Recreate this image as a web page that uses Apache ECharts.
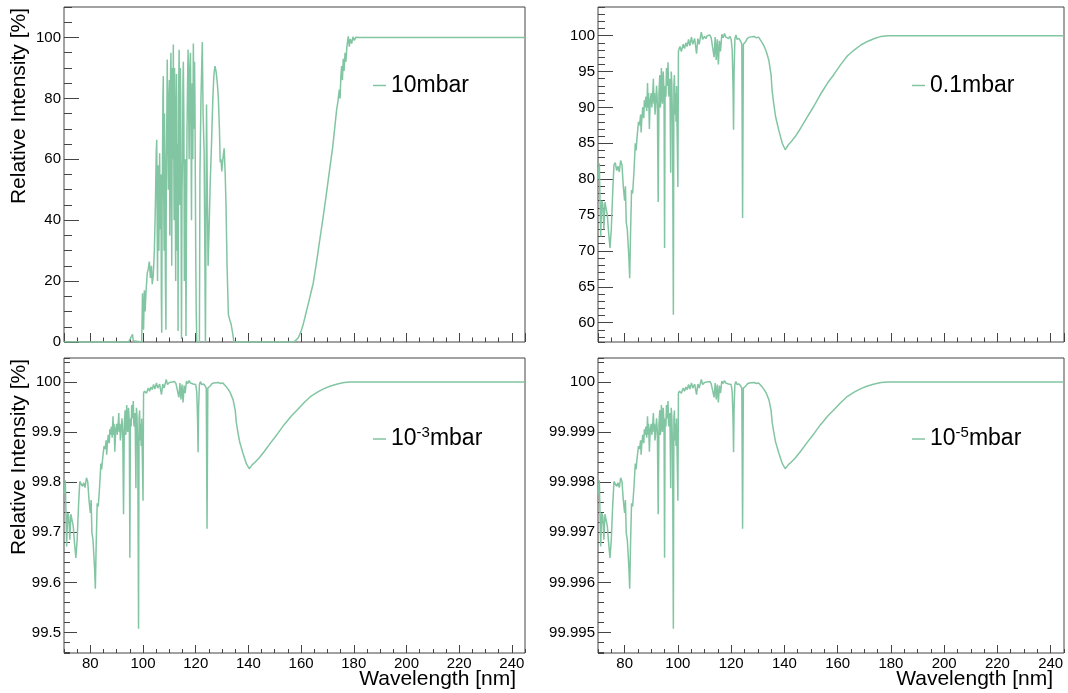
<!DOCTYPE html>
<html><head><meta charset="utf-8">
<script src="https://cdn.jsdelivr.net/npm/echarts@6/dist/echarts.min.js"></script>
<style>html,body{margin:0;padding:0;background:#fff}#c{width:1068px;height:693px}</style>
</head><body><div id="c"></div>
<script>
// ---------- data ----------
const wl10 = [70,94.5,95.0,95.5,96.0,96.3,97.0,99.5,99.8,100.2,100.5,100.8,101.1,101.6,102.0,102.4,102.8,103.2,103.5,103.9,104.3,104.7,105.0,105.2,105.4,105.5,105.7,105.8,106.0,106.1,106.3,106.5,106.8,106.95,107.1,107.25,107.4,107.55,107.7,107.85,108.0,108.15,108.3,108.5,108.7,108.85,109.0,109.2,109.4,109.6,109.8,110.0,110.15,110.3,110.45,110.6,110.75,110.9,111.05,111.2,111.35,111.5,111.65,111.8,111.95,112.1,112.25,112.4,112.55,112.7,112.85,113.0,113.15,113.3,113.5,113.7,113.85,114.0,114.15,114.3,114.45,114.6,114.8,115.0,115.15,115.3,115.5,115.7,115.9,116.1,116.3,116.5,116.7,116.9,117.1,117.3,117.5,117.75,118.0,118.2,118.4,118.55,118.7,118.9,119.1,119.25,119.4,119.55,119.7,119.85,120.0,120.2,120.4,121.4,121.6,122.0,122.5,122.8,123.2,123.7,124.1,124.4,124.7,125.1,125.5,126.0,126.5,126.9,127.3,127.7,128.2,128.6,129.0,129.3,129.6,129.9,130.3,130.8,131.2,131.5,131.9,132.4,133.0,133.4,134.0,134.5,157.0,158.0,159.0,160.0,160.9,162.0,163.0,164.6,166.0,167.0,168.4,169.5,171.0,172.0,173.5,174.0,174.5,174.8,175.1,175.4,175.7,176.0,176.3,176.7,177.0,177.4,177.9,178.3,178.7,179.2,179.7,180.2,180.8,181.5,182.5,245];
const t10 = [0,0,0.8,0.3,2.5,0.4,0.3,0,16,4,17,10,16,22.6,24,26.4,21,25,19,22,30,45,62,66.4,35,20,50,58,30,40,62,37,55,15,3,45,60,80,87.3,50,30,75,55,20,4,60,70,92.8,65,50,80,86,35,60,88,95,55,25,70,90,60,97.7,70,40,90,76,45,20,70,88,55,30,65,3.6,80,96,65,45,90,80,40,1,50,60,85,92,74,20,35,60,2,40,70,85,96,80,60,90,95,70,40,75,85,60,98,85,70,92,80,55,30,10,0,0,55,80,98.5,75,62,0,78,50,25,38,52,65,80,87.6,90.6,89,85,80,70,59,60,56,60,63.6,55,45,25,9,7,6,3,0,0,0.5,1.5,3.5,6.1,10,13.5,19.3,27,33,41.2,48,57.7,64,76.3,79,82.9,80,87,90.6,86,93,89,95,92,97,100.4,97,99.5,98,100.2,99,100.1,99.6,100,100];

const wl = [70.0,70.5,71.0,71.4,71.8,72.2,72.6,73.0,73.5,74.0,74.5,75.0,75.5,76.0,76.5,77.0,77.5,78.0,78.5,79.0,79.5,80.0,80.3,80.6,81.0,81.3,81.6,81.9,82.2,82.6,83.0,83.5,84.0,84.3,84.7,85.2,85.6,86.0,86.2,86.4,86.8,87.2,87.4,87.6,88.0,88.3,88.6,88.8,89.0,89.3,89.6,90.0,90.2,90.5,90.8,91.0,91.2,91.4,91.6,92.0,92.3,92.6,92.9,93.2,93.4,93.6,93.8,94.0,94.2,94.5,94.8,95.0,95.2,95.5,95.7,96.0,96.3,96.5,96.7,97.0,97.3,97.5,97.7,98.0,98.3,98.5,98.7,98.9,99.1,99.3,99.5,99.7,100.0,100.2,100.5,100.8,101.3,102.0,102.5,103.0,103.5,104.0,104.5,105.1,105.6,106.3,107.0,107.5,108.0,108.8,109.3,110.0,110.5,111.0,111.5,112.0,112.5,113.0,113.6,114.0,114.4,114.8,115.2,115.6,116.0,116.5,117.0,117.5,118.0,118.5,119.0,119.5,120.0,120.4,120.7,120.9,121.1,121.4,121.8,122.2,122.6,123.0,123.6,124.0,124.3,124.6,125.0,125.5,126.0,126.8,127.5,128.6,129.5,130.3,130.8,131.7,132.4,133.2,134.2,135.0,135.4,136.0,136.7,137.9,139.2,140.3,140.8,141.5,142.5,144.0,146.1,148.5,151.1,153.5,156.2,158.6,161.2,163.7,166.2,168.7,171.2,173.8,176.3,178.8,181.3,183.0,245.0];

const t01 = [80.0,82.2,72.0,77.0,76.5,73.0,76.8,76.0,75.0,72.5,70.4,73.0,78.0,82.0,82.3,81.2,81.8,81.0,82.6,82.0,79.0,77.0,79.0,74.0,73.0,71.0,69.0,66.2,72.0,78.5,78.0,81.0,85.0,84.0,86.0,88.0,87.5,89.0,86.5,88.0,90.0,88.5,91.0,90.0,91.5,89.5,93.4,90.0,92.0,87.0,91.0,92.0,90.0,91.5,94.0,90.5,92.0,89.0,90.0,93.0,90.5,76.8,92.0,94.5,90.0,91.0,95.5,93.0,90.5,95.0,92.0,70.4,93.0,91.5,95.5,93.0,96.3,92.0,91.5,94.0,80.9,95.0,93.5,88.0,61.1,93.0,94.5,89.0,92.0,88.0,93.0,87.0,78.9,97.8,98.2,98.5,97.8,98.8,98.2,99.0,98.5,99.5,98.6,99.8,98.8,99.6,97.5,99.6,98.8,100.5,99.5,99.9,99.6,100.0,99.8,100.1,99.7,99.9,97.0,99.8,96.6,99.5,96.0,99.3,97.8,100.2,99.7,100.3,99.8,100.0,99.6,99.9,99.5,98.0,93.0,86.9,95.0,99.5,100.1,99.5,99.3,99.6,99.2,98.8,74.6,98.8,98.6,99.2,99.6,99.8,99.9,99.9,99.7,99.8,99.7,99.0,98.5,97.8,96.5,94.5,92.3,90.5,88.7,86.8,85.0,84.1,84.3,84.8,85.2,85.9,87.1,88.6,90.2,91.8,93.4,94.6,96.0,97.2,98.0,98.7,99.2,99.6,99.9,100.0,100.0,100.0,100.0];

const t3 = [99.7769,99.8040,99.6715,99.7386,99.7321,99.6853,99.7360,99.7256,99.7123,99.6784,99.6490,99.6853,99.7515,99.8015,99.8052,99.7917,99.7991,99.7893,99.8089,99.8015,99.7643,99.7386,99.7643,99.6989,99.6853,99.6575,99.6289,99.5875,99.6715,99.7579,99.7515,99.7893,99.8375,99.8256,99.8492,99.8722,99.8665,99.8835,99.8550,99.8722,99.8946,99.8778,99.9057,99.8946,99.9112,99.8891,99.9317,99.8946,99.9166,99.8607,99.9057,99.9166,99.8946,99.9112,99.9381,99.9002,99.9166,99.8835,99.8946,99.9274,99.9002,99.7360,99.9166,99.9434,99.8946,99.9057,99.9540,99.9274,99.9002,99.9487,99.9166,99.6490,99.9274,99.9112,99.9540,99.9274,99.9623,99.9166,99.9112,99.9381,99.7880,99.9487,99.9328,99.8722,99.5074,99.9274,99.9434,99.8835,99.9166,99.8722,99.9274,99.8607,99.7630,99.9778,99.9818,99.9849,99.9778,99.9879,99.9818,99.9899,99.9849,99.9950,99.9859,99.9980,99.9879,99.9960,99.9747,99.9960,99.9879,100.0050,99.9950,99.9990,99.9960,100.0000,99.9980,100.0010,99.9970,99.9990,99.9695,99.9980,99.9654,99.9950,99.9592,99.9930,99.9778,100.0020,99.9970,100.0030,99.9980,100.0000,99.9960,99.9990,99.9950,99.9798,99.9274,99.8596,99.9487,99.9950,100.0010,99.9950,99.9930,99.9960,99.9920,99.9879,99.7070,99.9879,99.9859,99.9920,99.9960,99.9980,99.9990,99.9990,99.9970,99.9980,99.9970,99.9899,99.9849,99.9778,99.9644,99.9434,99.9199,99.9002,99.8801,99.8584,99.8375,99.8269,99.8292,99.8351,99.8398,99.8480,99.8619,99.8790,99.8969,99.9144,99.9317,99.9445,99.9592,99.9716,99.9798,99.9869,99.9920,99.9960,99.9990,100,100,100,100];

const t5 = [99.997769,99.998040,99.996715,99.997386,99.997321,99.996853,99.997360,99.997256,99.997123,99.996784,99.996490,99.996853,99.997515,99.998015,99.998052,99.997917,99.997991,99.997893,99.998089,99.998015,99.997643,99.997386,99.997643,99.996989,99.996853,99.996575,99.996289,99.995875,99.996715,99.997579,99.997515,99.997893,99.998375,99.998256,99.998492,99.998722,99.998665,99.998835,99.998550,99.998722,99.998946,99.998778,99.999057,99.998946,99.999112,99.998891,99.999317,99.998946,99.999166,99.998607,99.999057,99.999166,99.998946,99.999112,99.999381,99.999002,99.999166,99.998835,99.998946,99.999274,99.999002,99.997360,99.999166,99.999434,99.998946,99.999057,99.999540,99.999274,99.999002,99.999487,99.999166,99.996490,99.999274,99.999112,99.999540,99.999274,99.999623,99.999166,99.999112,99.999381,99.997880,99.999487,99.999328,99.998722,99.995074,99.999274,99.999434,99.998835,99.999166,99.998722,99.999274,99.998607,99.997630,99.999778,99.999818,99.999849,99.999778,99.999879,99.999818,99.999899,99.999849,99.999950,99.999859,99.999980,99.999879,99.999960,99.999747,99.999960,99.999879,100.000050,99.999950,99.999990,99.999960,100.000000,99.999980,100.000010,99.999970,99.999990,99.999695,99.999980,99.999654,99.999950,99.999592,99.999930,99.999778,100.000020,99.999970,100.000030,99.999980,100.000000,99.999960,99.999990,99.999950,99.999798,99.999274,99.998596,99.999487,99.999950,100.000010,99.999950,99.999930,99.999960,99.999920,99.999879,99.997070,99.999879,99.999859,99.999920,99.999960,99.999980,99.999990,99.999990,99.999970,99.999980,99.999970,99.999899,99.999849,99.999778,99.999644,99.999434,99.999199,99.999002,99.998801,99.998584,99.998375,99.998269,99.998292,99.998351,99.998398,99.998480,99.998619,99.998790,99.998969,99.999144,99.999317,99.999445,99.999592,99.999716,99.999798,99.999869,99.999920,99.999960,99.999990,100,100,100,100];

const seriesNames = ['10mbar', '0.1mbar', '10-3mbar', '10-5mbar'];
const xTitle = 'Wavelength [nm]';
const yTitle = 'Relative Intensity [%]';

// ---------- chart ----------
const FONT = '"Liberation Sans", Arial, Helvetica, sans-serif';
const COLOR = '#82c5a2';
const FRAME = '#444';

const grids = [
  {left: 64, top: 7, width: 461, height: 335},
  {left: 598, top: 7, width: 466, height: 335},
  {left: 64, top: 358, width: 461, height: 295},
  {left: 598, top: 358, width: 466, height: 295}
];
const yCfg = [
  {min: 0, max: 110, major: 20, minor: 5, len: 15, mlen: 8, showMin: true},
  {min: 57.3, max: 104, major: 5, minor: 1, len: 15, mlen: 7, showMin: false},
  {min: 99.459, max: 100.048, major: 0.1, minor: 0.02, len: 13, mlen: 6, showMin: false},
  {min: 99.99459, max: 100.00048, major: 0.001, minor: 0.0002, len: 13, mlen: 6, showMin: false}
];

const xAxes = [], yAxes = [];
grids.forEach((g, i) => {
  const bottomRow = i >= 2;
  xAxes.push({
    type: 'value', gridIndex: i, position: 'bottom', min: 70, max: 245,
    splitNumber: 9, minInterval: 20, maxInterval: 20,
    axisLine: {show: false},
    axisTick: {show: true, inside: true, length: bottomRow ? 8 : 9, lineStyle: {color: FRAME, width: 1}},
    axisLabel: {show: bottomRow, margin: 3, fontSize: 15, color: '#000', fontFamily: FONT, showMinLabel: false, showMaxLabel: false},
    splitLine: {show: false}
  });
  xAxes.push({
    type: 'value', gridIndex: i, position: 'bottom', min: 70, max: 245,
    splitNumber: 35, minInterval: 5, maxInterval: 5,
    axisLine: {show: false},
    axisTick: {show: true, inside: true, length: bottomRow ? 4 : 4.5, lineStyle: {color: FRAME, width: 1}},
    axisLabel: {show: false}, splitLine: {show: false}
  });
  const c = yCfg[i];
  yAxes.push({
    type: 'value', gridIndex: i, position: 'left', min: c.min, max: c.max,
    splitNumber: Math.round((c.max - c.min) / c.major), minInterval: c.major, maxInterval: c.major,
    axisLine: {show: false},
    axisTick: {show: true, inside: true, length: c.len, lineStyle: {color: FRAME, width: 1}},
    axisLabel: {show: true, margin: 3, fontSize: 15, color: '#000', fontFamily: FONT, showMinLabel: c.showMin, showMaxLabel: false},
    splitLine: {show: false}
  });
  yAxes.push({
    type: 'value', gridIndex: i, position: 'left', min: c.min, max: c.max,
    splitNumber: Math.round((c.max - c.min) / c.minor), minInterval: c.minor, maxInterval: c.minor,
    axisLine: {show: false},
    axisTick: {show: true, inside: true, length: c.mlen, lineStyle: {color: FRAME, width: 1}},
    axisLabel: {show: false}, splitLine: {show: false}
  });
});

const seriesData = [
  wl10.map((x, k) => [x, t10[k]]),
  wl.map((x, k) => [x, t01[k]]),
  wl.map((x, k) => [x, t3[k]]),
  wl.map((x, k) => [x, t5[k]])
];

const series = seriesData.map((d, i) => ({
  type: 'line', name: seriesNames[i], xAxisIndex: i * 2, yAxisIndex: i * 2,
  data: d, showSymbol: false, symbol: 'none', sampling: null,
  lineStyle: {color: COLOR, width: 1.5}, itemStyle: {color: COLOR},
  emphasis: {disabled: true}, silent: true, animation: false
}));

const legendPos = [
  {left: 368, top: 69}, {left: 907, top: 69},
  {left: 368, top: 420}, {left: 907, top: 420}
];
const legends = seriesNames.map((n, i) => ({
  data: [n], left: legendPos[i].left, top: legendPos[i].top,
  orient: 'horizontal', padding: 5, itemWidth: 13, itemHeight: 1.5, itemGap: 0,
  icon: 'rect', selectedMode: false,
  itemStyle: {color: COLOR, borderWidth: 0},
  textStyle: {
    fontSize: 23, fontFamily: FONT, color: '#000',
    rich: {
      n: {fontSize: 23, fontFamily: FONT, color: '#000'},
      s: {fontSize: 15, fontFamily: FONT, color: '#000', padding: [0, 0, 13, 0]}
    }
  },
  formatter: (name) => {
    const m = name.match(/^10(-\d)mbar$/);
    return m ? '{n|10}{s|' + m[1] + '}{n|mbar}' : name;
  }
}));

const textFont = '21px ' + FONT;
const graphic = [
  {type: 'text', x: 19, y: 8, rotation: Math.PI / 2, silent: true,
   style: {text: yTitle, font: textFont, fill: '#000', align: 'right', verticalAlign: 'middle', textAlign: 'right', textVerticalAlign: 'middle'}},
  {type: 'text', x: 19, y: 359, rotation: Math.PI / 2, silent: true,
   style: {text: yTitle, font: textFont, fill: '#000', align: 'right', verticalAlign: 'middle', textAlign: 'right', textVerticalAlign: 'middle'}},
  {type: 'text', x: 516, y: 679, silent: true,
   style: {text: xTitle, font: textFont, fill: '#000', align: 'right', verticalAlign: 'middle', textAlign: 'right', textVerticalAlign: 'middle'}},
  {type: 'text', x: 1053, y: 679, silent: true,
   style: {text: xTitle, font: textFont, fill: '#000', align: 'right', verticalAlign: 'middle', textAlign: 'right', textVerticalAlign: 'middle'}}
];

const chart = echarts.init(document.getElementById('c'), null, {renderer: 'canvas'});
chart.setOption({
  animation: false,
  backgroundColor: '#fff',
  grid: grids.map(g => Object.assign({show: true, borderColor: FRAME, borderWidth: 1, backgroundColor: 'transparent', containLabel: false}, g)),
  xAxis: xAxes,
  yAxis: yAxes,
  legend: legends,
  series: series,
  graphic: graphic
});
</script>
</body></html>
